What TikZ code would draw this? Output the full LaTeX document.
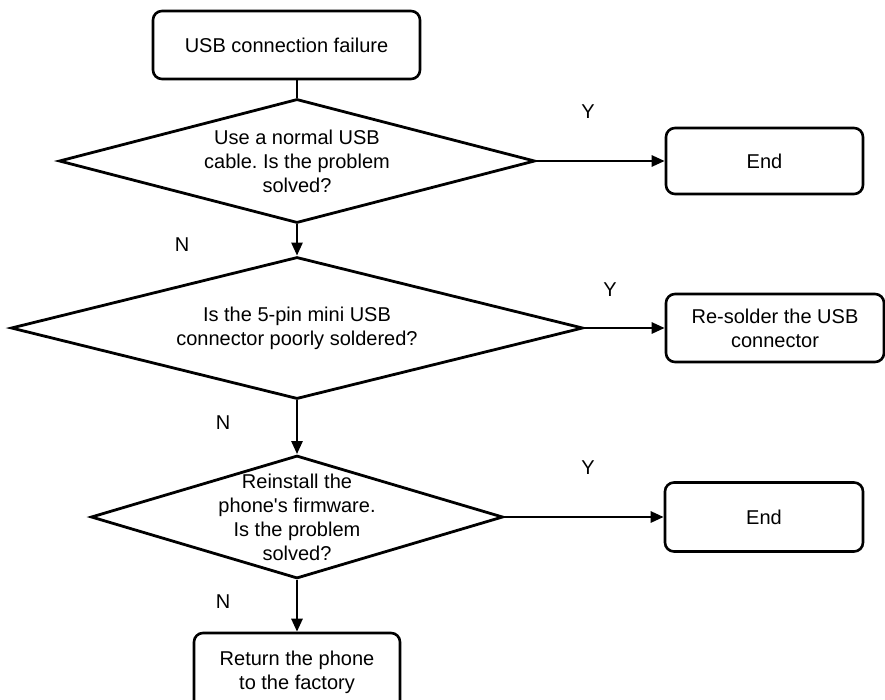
\documentclass[tikz,border=0pt]{standalone}
\usepackage{fontspec}
\setmainfont{Liberation Sans}
\usetikzlibrary{shapes.geometric,arrows.meta}
\frenchspacing
\begin{document}
\begin{tikzpicture}[x=1pt,y=-1pt,>={Triangle[length=13pt,width=11pt]},
	font=\fontsize{20}{24}\selectfont,
	box/.style={draw,line width=2.6pt,rounded corners=9pt,align=center,inner sep=0pt},
	decision/.style={draw,diamond,line width=2.8pt,inner sep=0pt},
	txt/.style={align=center,inner sep=0pt}]
	\useasboundingbox (0,0) rectangle (885,699);
	% boxes
	\node[box,minimum width=267pt,minimum height=68pt] (start) at (286.5,45) {USB connection failure};
	\node[box,minimum width=197pt,minimum height=66pt] (end1) at (764.5,161) {End};
	\node[box,minimum width=218pt,minimum height=68pt] (fix) at (775,328) {Re-solder the USB\\connector};
	\node[box,minimum width=198pt,minimum height=69pt] (end2) at (764,517) {End};
	\node[box,minimum width=206pt,minimum height=78pt] (ret) at (297,672) {Return the phone\\to the factory};
	% decisions
	\node[decision,minimum width=476pt,minimum height=124pt] (q1) at (297,161) {};
	\node[decision,minimum width=572pt,minimum height=142pt] (q2) at (297,328) {};
	\node[decision,minimum width=412pt,minimum height=123pt] (q3) at (297,517) {};
	\node[txt] (q1t) at (q1) {Use a normal USB\\cable. Is the problem\\solved?};
	\node[txt] (q2t) at (q2) {Is the 5-pin mini USB\\connector poorly soldered?};
	\node[txt] (q3t) at (q3) {Reinstall the\\phone\textquotesingle s firmware.\\Is the problem\\solved?};
	% connectors
	\draw[line width=2.6pt] (start.south -| q1.north)--(q1.north);
	\draw[->,line width=2.6pt] (q1.east)--(end1.west);
	\draw[->,line width=2.6pt] (q1.south)--(q2.north);
	\draw[->,line width=2.6pt] (q2.east)--(fix.west);
	\draw[->,line width=2.6pt] (q2.south)--(q3.north);
	\draw[->,line width=2.6pt] (q3.east)--(end2.west);
	\draw[->,line width=2.6pt] (q3.south)--(ret.north);
	\foreach \p/\t/\x/\y in {ya/Y/588/112,yb/Y/610/290,yc/Y/588/468,na/N/182/245,nb/N/223/423,nc/N/223/602}
		\node (\p) at (\x,\y) {\t};
\end{tikzpicture}
\end{document}
